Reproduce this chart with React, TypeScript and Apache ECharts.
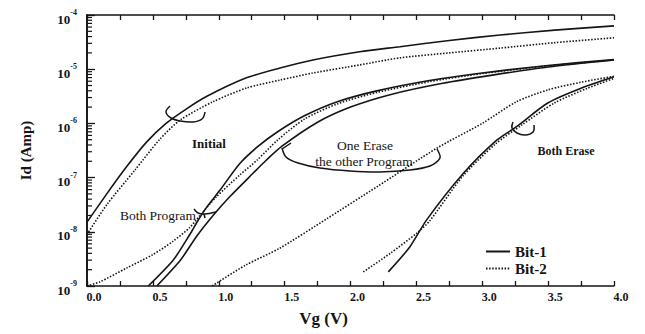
import React, { useEffect, useRef } from "react";
import * as echarts from "echarts";

const FONT = "'Liberation Serif', 'Times New Roman', serif";
const INK = "#151515";

// ---- data (Vg in volts, Id in amps) ----
const initialBit1Vg = [0, 0.15, 0.3, 0.45, 0.6, 0.75, 0.91, 1.21, 1.465, 1.715, 2.07, 2.376, 2.75, 3.135, 3.55, 4.0];
const initialBit1Id = [1.51e-8, 5.01e-8, 1.58e-7, 4.47e-7, 1.0e-6, 1.82e-6, 3.16e-6, 6.92e-6, 1.05e-5, 1.48e-5, 2.1e-5, 2.6e-5, 3.39e-5, 4.27e-5, 5.25e-5, 6.31e-5];

const initialBit2Vg = [0, 0.15, 0.364, 0.55, 0.706, 0.956, 1.212, 1.465, 1.715, 2.07, 2.376, 2.75, 3.135, 3.55, 4.0];
const initialBit2Id = [8.9e-9, 3.16e-8, 1.38e-7, 5.0e-7, 1.15e-6, 2.51e-6, 4.5e-6, 6.31e-6, 8.51e-6, 1.2e-5, 1.62e-5, 2.0e-5, 2.45e-5, 3.09e-5, 3.8e-5];

const bothProgBit1Vg = [0.465, 0.655, 0.78, 0.84, 0.91, 1.01, 1.16, 1.3, 1.45, 1.65, 1.9, 2.2, 2.6, 3.0, 3.5, 4.0];
const bothProgBit1Id = [1e-9, 3.02e-9, 8.9e-9, 1.58e-8, 2.88e-8, 5.89e-8, 1.82e-7, 3.8e-7, 7.08e-7, 1.38e-6, 2.51e-6, 3.98e-6, 6.17e-6, 8.51e-6, 1.17e-5, 1.51e-5];

const bothProgBit2Vg = [0, 0.1, 0.3, 0.5, 0.65, 0.78, 0.85, 0.98, 1.16, 1.29, 1.45, 1.65, 1.9, 2.2, 2.6, 3.0, 3.5, 4.0];
const bothProgBit2Id = [1e-9, 1.2e-9, 2.14e-9, 3.8e-9, 6.61e-9, 1.2e-8, 1.91e-8, 4.37e-8, 1.12e-7, 2.09e-7, 5.01e-7, 1.2e-6, 2.29e-6, 3.72e-6, 5.89e-6, 8.32e-6, 1.15e-5, 1.48e-5];

const oneEraseBit1Vg = [0.53, 0.71, 0.83, 0.96, 1.085, 1.26, 1.36, 1.48, 1.75, 2.0, 2.3, 2.7, 3.1, 3.5, 4.0];
const oneEraseBit1Id = [1e-9, 3.02e-9, 8.13e-9, 2.04e-8, 4.47e-8, 1.2e-7, 2.09e-7, 3.8e-7, 1.05e-6, 2.0e-6, 3.39e-6, 5.5e-6, 7.94e-6, 1.1e-5, 1.48e-5];

const oneEraseBit2Vg = [0.95, 1.2, 1.465, 1.82, 2.2, 2.66, 3.0, 3.26, 3.5, 3.75, 4.0];
const oneEraseBit2Id = [1e-9, 2.4e-9, 5.01e-9, 1.74e-8, 6.76e-8, 3.55e-7, 1.0e-6, 2.51e-6, 4.17e-6, 5.75e-6, 7.41e-6];

const bothEraseBit1Vg = [2.287, 2.45, 2.578, 2.857, 3.11, 3.26, 3.5, 3.75, 4.0];
const bothEraseBit1Id = [1.82e-9, 5.25e-9, 1.66e-8, 1.2e-7, 4.9e-7, 8.71e-7, 2.4e-6, 4.47e-6, 7.24e-6];

const bothEraseBit2Vg = [2.097, 2.3, 2.5, 2.6, 2.85, 3.1, 3.3, 3.55, 3.8, 4.0];
const bothEraseBit2Id = [1.82e-9, 3.98e-9, 9.33e-9, 1.58e-8, 1.05e-7, 4.17e-7, 9.33e-7, 2.4e-6, 4.47e-6, 6.76e-6];

// ---- axis decorations ----
const xTickStep = 0.25;
const yDecades = [-9, -8, -7, -6, -5];
const yMinorMultipliers = [2, 3, 4, 5, 6, 7, 8, 9];
const legendNames = ["Bit-1", "Bit-2"];

const zip = (xs: number[], ys: number[]) => xs.map((x, i) => [x, ys[i]]);

const solid = (xs: number[], ys: number[]) => ({
  type: "line",
  name: "Bit-1",
  data: zip(xs, ys),
  symbol: "none",
  showSymbol: false,
  smooth: 0.25,
  silent: true,
  z: 3,
  itemStyle: { color: INK },
  lineStyle: { color: INK, width: 1.6, type: "solid" },
});

const dotted = (xs: number[], ys: number[]) => ({
  type: "line",
  name: "Bit-2",
  data: zip(xs, ys),
  symbol: "none",
  showSymbol: false,
  smooth: 0.25,
  silent: true,
  z: 3,
  itemStyle: { color: INK },
  lineStyle: { color: INK, width: 1.6, type: [1.5, 1.6] },
});

const hook = (points: number[][], smooth = 0.4) => ({
  type: "polyline",
  silent: true,
  z: 10,
  shape: { points, smooth },
  style: { stroke: INK, lineWidth: 1.5, fill: null },
});

const label = (text: string, x: number, y: number, size: number, weight = "normal") => ({
  type: "text",
  silent: true,
  z: 10,
  x,
  y,
  style: {
    text,
    fill: INK,
    fontFamily: FONT,
    fontSize: size,
    fontWeight: weight,
    align: "center",
    verticalAlign: "middle",
    textAlign: "center",
    textVerticalAlign: "middle",
  },
});

export default function App() {
  const ref = useRef<HTMLDivElement>(null);

  useEffect(() => {
    if (!ref.current) return;
    const chart = echarts.init(ref.current, null, { renderer: "svg" });

    const minorTicks: number[][] = [];
    yDecades.forEach((d) => yMinorMultipliers.forEach((m) => minorTicks.push([0, m * Math.pow(10, d)])));

    const option: any = {
      animation: false,
      backgroundColor: "#ffffff",
      grid: { left: 87, right: 31, top: 15, bottom: 48 },
      legend: {
        data: legendNames,
        orient: "vertical",
        left: 485,
        top: 244,
        padding: 0,
        itemWidth: 24,
        itemHeight: 10,
        itemGap: 2,
        selectedMode: false,
        itemStyle: { opacity: 0, borderWidth: 0 },
        textStyle: { fontFamily: FONT, fontSize: 15, fontWeight: "bold", color: INK },
      },
      xAxis: [
        {
          type: "value",
          min: 0,
          max: 4,
          interval: xTickStep,
          position: "bottom",
          name: "Vg (V)",
          nameLocation: "middle",
          nameGap: 24,
          nameTextStyle: { fontFamily: FONT, fontSize: 17, fontWeight: "bold", color: INK, padding: [0, 54, 0, 0] },
          axisLine: { show: true, lineStyle: { color: INK, width: 1.6 } },
          axisTick: { show: true, inside: true, length: 5, lineStyle: { color: INK, width: 1.3 } },
          axisLabel: {
            margin: 5,
            fontFamily: FONT,
            fontSize: 12,
            fontWeight: "bold",
            color: INK,
            padding: [0, 0, 0, 14],
            formatter: (v: number) => (Math.abs(Math.round(v * 100) % 50) === 0 ? v.toFixed(1) : ""),
          },
          splitLine: { show: false },
        },
        {
          type: "value",
          min: 0,
          max: 4,
          interval: xTickStep,
          position: "top",
          axisLine: { show: true, lineStyle: { color: INK, width: 1.6 } },
          axisTick: { show: true, inside: true, length: 5, lineStyle: { color: INK, width: 1.3 } },
          axisLabel: { show: false },
          splitLine: { show: false },
        },
      ],
      yAxis: [
        {
          type: "log",
          logBase: 10,
          min: 1e-9,
          max: 1e-4,
          splitNumber: 5,
          position: "left",
          name: "Id (Amp)",
          nameLocation: "middle",
          nameGap: 54,
          nameRotate: 90,
          nameTextStyle: { fontFamily: FONT, fontSize: 15, fontWeight: "bold", color: INK },
          axisLine: { show: true, lineStyle: { color: INK, width: 1.6 } },
          axisTick: { show: true, inside: true, length: 8, lineStyle: { color: INK, width: 1.3 } },
          axisLabel: {
            margin: 10,
            padding: [4, 0, 0, 0],
            formatter: (v: number) => `{b|10}{s|${Math.round(Math.log10(v))}}`,
            rich: {
              b: { fontFamily: FONT, fontSize: 13, fontWeight: "bold", color: INK, padding: [4, 0, 0, 0] },
              s: { fontFamily: FONT, fontSize: 8, fontWeight: "bold", color: INK, verticalAlign: "top", lineHeight: 8 },
            },
          },
          splitLine: { show: false },
        },
        {
          type: "log",
          logBase: 10,
          min: 1e-9,
          max: 1e-4,
          position: "right",
          axisLine: { show: true, lineStyle: { color: INK, width: 1.6 } },
          axisTick: { show: false },
          axisLabel: { show: false },
          splitLine: { show: false },
        },
      ],
      series: [
        solid(initialBit1Vg, initialBit1Id),
        dotted(initialBit2Vg, initialBit2Id),
        solid(bothProgBit1Vg, bothProgBit1Id),
        dotted(bothProgBit2Vg, bothProgBit2Id),
        solid(oneEraseBit1Vg, oneEraseBit1Id),
        dotted(oneEraseBit2Vg, oneEraseBit2Id),
        solid(bothEraseBit1Vg, bothEraseBit1Id),
        dotted(bothEraseBit2Vg, bothEraseBit2Id),
        {
          type: "custom",
          name: "minorTicks",
          silent: true,
          data: minorTicks,
          renderItem: (params: any, api: any) => {
            const p = api.coord([0, api.value(1)]);
            const cs = params.coordSys;
            return {
              type: "line",
              shape: { x1: cs.x, y1: p[1], x2: cs.x + 5, y2: p[1] },
              style: { stroke: INK, lineWidth: 1.2 },
            };
          },
        },
      ],
      graphic: [
        label("Initial", 209, 143, 13, "bold"),
        label("Both Program", 158, 215, 13.5),
        label("One Erase", 365, 145, 13.5),
        label("the other Program", 364, 161, 13.5),
        label("Both Erase", 566, 151, 12, "bold"),
        hook([[170, 106], [166, 112], [171, 118], [180, 121], [193, 122], [202, 119], [205, 112]]),
        hook([[194, 209], [198, 213], [205, 214], [216, 212]], 0.3),
        hook([[204, 214], [205, 218]], 0),
        hook([[282, 148], [286, 157], [298, 163], [320, 168], [350, 171], [380, 172], [410, 170], [430, 166], [440, 158], [437, 149]], 0.3),
        hook([[282, 149], [291, 143]], 0),
        hook([[513, 122], [512, 128], [517, 133], [525, 135], [533, 132], [534, 125]]),
      ],
    };

    chart.setOption(option);
    return () => chart.dispose();
  }, []);

  return (
    <div
      ref={ref}
      style={{ position: "fixed", left: 0, top: 0, width: 645, height: 334, background: "#fff" }}
    />
  );
}
